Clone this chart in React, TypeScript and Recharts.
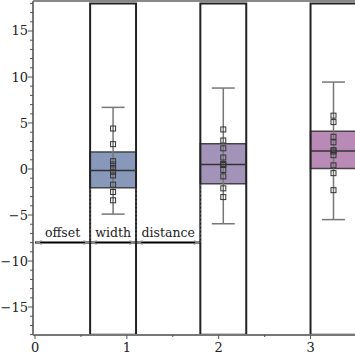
import React from "react";
import {
  ComposedChart,
  XAxis,
  YAxis,
  Scatter,
  ReferenceArea,
  ReferenceLine,
} from "recharts";

// layout of the slots: offset, width, distance
const offset = 0.6;
const boxWidth = 0.5;
const distance = 0.7;
const annotationY = -8;

const slotStarts = [0.6, 1.8, 3.0];
const boxColors = ["#8898ba", "#a393b8", "#b98ab6"];
const q1 = [-2.05, -1.6, 0.05];
const q3 = [1.85, 2.75, 4.1];
const medians = [-0.15, 0.5, 1.95];
const whiskerLow = [-4.9, -5.95, -5.5];
const whiskerHigh = [6.7, 8.8, 9.45];
const points = [
  [4.4, 2.7, 0.85, 0.5, 0.1, -0.3, -0.7, -1.7, -2.5, -3.4],
  [4.3, 3.1, 2.25, 1.25, 0.55, 0.45, -0.1, -0.8, -2.1, -3.05],
  [5.8, 5.1, 3.5, 2.9, 2.05, 1.9, 1.5, 0.4, -0.45, -2.3],
];

const yTicks = Array.from({ length: 37 }, (_, i) => i - 18);
const xTicks = [0, 0.5, 1, 1.5, 2, 2.5, 3, 3.5];
const xDomain = [-0.022, 3.8];
const yDomain = [-18.04, 18.26];

const serif = "'DejaVu Serif', serif";

const fmt = (v: number) => (v < 0 ? `\u2212${-v}` : `${v}`);

const YTick = (props: any) => {
  const { x, y, payload } = props;
  const v = payload.value;
  const major = v % 5 === 0;
  return (
    <g>
      <line x1={x - (major ? 5 : 3)} x2={x} y1={y} y2={y} stroke="#555" strokeWidth={1} />
      {major && (
        <text x={x - 5} y={y} dy={4.5} textAnchor="end" fontSize={13} fontFamily={serif} fill="#222">
          {fmt(v)}
        </text>
      )}
    </g>
  );
};

const XTick = (props: any) => {
  const { x, y, payload } = props;
  const v = payload.value;
  const major = Number.isInteger(v);
  return (
    <g>
      <line x1={x} x2={x} y1={y} y2={y + (major ? 4 : 2)} stroke="#555" strokeWidth={1} />
      {major && (
        <text x={x} y={y + 17} textAnchor="middle" fontSize={13} fontFamily={serif} fill="#222">
          {v}
        </text>
      )}
    </g>
  );
};

const Square = (props: any) => {
  const { cx, cy } = props;
  return <rect x={cx - 2.5} y={cy - 2.5} width={5} height={5} fill="none" stroke="#333" strokeWidth={1} />;
};

const Arrow = (props: any) => {
  const { cx, cy, payload } = props;
  const d = payload?.dir ?? 1;
  if (cx == null || cy == null) return null;
  return (
    <path
      d={`M${cx},${cy} L${cx - d * 7},${cy - 2.5} L${cx - d * 5},${cy} L${cx - d * 7},${cy + 2.5} Z`}
      fill="#888"
      stroke="none"
    />
  );
};

const segBounds = [0, offset, offset + boxWidth, offset + boxWidth + distance];
const segLabels = ["offset", "width", "distance"];
const arrowDirs = [-1, 1, -1, 1, -1, 1];
const arrowXs = [segBounds[0], segBounds[1], segBounds[1], segBounds[2], segBounds[2], segBounds[3]];

export default function App() {
  const centers = slotStarts.map((s) => s + boxWidth / 2);
  const arrowData = arrowXs.map((x, i) => ({ x, y: annotationY, dir: arrowDirs[i] }));
  return (
    <div style={{ position: "fixed", left: 0, top: 0, width: 355, height: 355, overflow: "hidden", background: "#fff" }}>
      <ComposedChart width={384} height={355} margin={{ top: 1, right: 0, bottom: 0, left: 0 }}>
        <XAxis
          type="number"
          dataKey="x"
          domain={xDomain}
          ticks={xTicks}
          interval={0}
          allowDataOverflow
          height={20}
          tickSize={0}
          tickMargin={0}
          tick={<XTick />}
          stroke="#777"
          strokeWidth={2}
        />
        <YAxis
          type="number"
          dataKey="y"
          domain={yDomain}
          ticks={yTicks}
          interval={0}
          allowDataOverflow
          width={33}
          tickSize={0}
          tickMargin={0}
          tick={<YTick />}
          stroke="#777"
          strokeWidth={2}
        />
        <ReferenceLine y={yDomain[1]} stroke="#888" strokeWidth={2} ifOverflow="visible" />

        {/* extension lines of the annotation */}
        <ReferenceLine segment={[{ x: segBounds[1], y: annotationY }, { x: segBounds[1], y: q1[0] }]} stroke="#666" strokeDasharray="2 2" />
        <ReferenceLine segment={[{ x: segBounds[2], y: annotationY }, { x: segBounds[2], y: q1[0] }]} stroke="#666" strokeDasharray="2 2" />
        <ReferenceLine segment={[{ x: segBounds[3], y: annotationY }, { x: segBounds[3], y: q1[1] }]} stroke="#666" strokeDasharray="2 2" />

        {centers.map((c, i) => (
          <ReferenceLine
            key={`w${i}`}
            segment={[{ x: c, y: whiskerLow[i] }, { x: c, y: whiskerHigh[i] }]}
            stroke="#777"
            strokeWidth={1.5}
          />
        ))}
        {centers.map((c, i) => (
          <ReferenceLine
            key={`cl${i}`}
            segment={[{ x: c - 0.125, y: whiskerLow[i] }, { x: c + 0.125, y: whiskerLow[i] }]}
            stroke="#777"
            strokeWidth={1.5}
          />
        ))}
        {centers.map((c, i) => (
          <ReferenceLine
            key={`ch${i}`}
            segment={[{ x: c - 0.125, y: whiskerHigh[i] }, { x: c + 0.125, y: whiskerHigh[i] }]}
            stroke="#777"
            strokeWidth={1.5}
          />
        ))}
        {slotStarts.map((s, i) => (
          <ReferenceArea
            key={`b${i}`}
            x1={s}
            x2={s + boxWidth}
            y1={q1[i]}
            y2={q3[i]}
            fill={boxColors[i]}
            fillOpacity={1}
            stroke="#444"
            strokeWidth={1.5}
          />
        ))}
        {slotStarts.map((s, i) => (
          <ReferenceLine
            key={`m${i}`}
            segment={[{ x: s, y: medians[i] }, { x: s + boxWidth, y: medians[i] }]}
            stroke="#333"
            strokeWidth={1.5}
          />
        ))}
        {slotStarts.map((s, i) => (
          <ReferenceArea
            key={`r${i}`}
            x1={s}
            x2={s + boxWidth}
            y1={-18}
            y2={18}
            fill="none"
            fillOpacity={0}
            stroke="#222"
            strokeWidth={2}
          />
        ))}

        {/* annotation line */}
        {segLabels.map((lab, i) => (
          <ReferenceLine
            key={`a${i}`}
            segment={[{ x: segBounds[i], y: annotationY }, { x: segBounds[i + 1], y: annotationY }]}
            stroke="#000"
            strokeWidth={2}
            label={{ value: lab, position: "top", fontSize: 12.5, fontFamily: serif, fill: "#222", offset: 6 }}
          />
        ))}

        {points.map((p, i) => (
          <Scatter
            key={`p${i}`}
            data={p.map((y) => ({ x: centers[i], y }))}
            shape={<Square />}
            isAnimationActive={false}
          />
        ))}
        <Scatter data={arrowData} dataKey="y" shape={<Arrow />} isAnimationActive={false} />
      </ComposedChart>
    </div>
  );
}
